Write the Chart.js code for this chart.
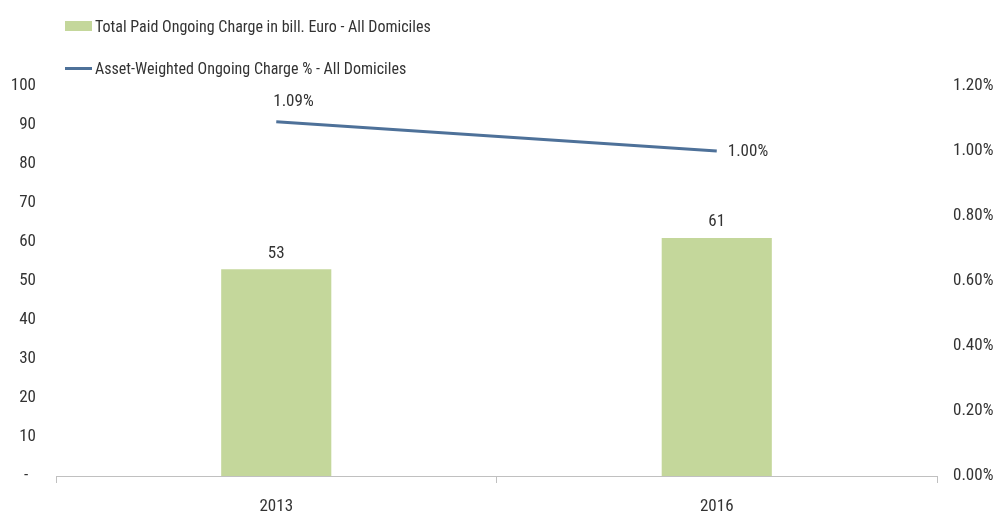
<!DOCTYPE html>
<html>
<head>
<meta charset="utf-8">
<script src="https://cdn.jsdelivr.net/npm/chart.js@4/dist/chart.umd.min.js"></script>
<style>
  html, body { margin: 0; padding: 0; background: #fff; }
  #wrap { position: relative; width: 994px; height: 513px; }
  canvas { position: absolute; left: 0; top: 0; }
  .legend-item {
    position: absolute; left: 65px; height: 20px;
    display: flex; align-items: center;
    font-family: "Roboto Condensed", "DejaVu Sans Condensed", sans-serif;
    font-size: 16px; color: #333;
  }
  .legend-item .swatch { width: 27px; margin-right: 3px; }
</style>
</head>
<body>
<div id="wrap">
  <canvas id="chart" width="994" height="513"></canvas>
  <div class="legend-item" style="top:16px"><span class="swatch" style="height:10px;background:#c4d79b"></span><span id="leg-bar"></span></div>
  <div class="legend-item" style="top:58px"><span class="swatch" style="height:3px;background:#4e7199"></span><span id="leg-line"></span></div>
</div>
<script>
// --- DATA ---
const years = ['2013', '2016'];
const paidCharge = [53, 61];          // bill. Euro
const weightedCharge = [1.09, 1.00];  // percent
const leftTicks = [0, 10, 20, 30, 40, 50, 60, 70, 80, 90, 100];
const rightTicks = [0, 0.2, 0.4, 0.6, 0.8, 1.0, 1.2];
const barLabel = 'Total Paid Ongoing Charge in bill. Euro - All Domiciles';
const lineLabel = 'Asset-Weighted Ongoing Charge % - All Domiciles';

const FONT = '"Roboto Condensed", "DejaVu Sans Condensed", sans-serif';
const FONT_SIZE = 17;
const TEXT = '#333333';
const BAR_COLOR = '#c4d79b';
const LINE_COLOR = '#4e7199';

document.getElementById('leg-bar').innerText = barLabel;
document.getElementById('leg-line').innerText = lineLabel;

// value labels over the bars and next to the line points
const valueLabels = {
  id: 'valueLabels',
  afterDatasetsDraw(chart) {
    const ctx = chart.ctx;
    ctx.save();
    ctx.font = FONT_SIZE + 'px ' + FONT;
    ctx.fillStyle = TEXT;

    chart.getDatasetMeta(0).data.forEach((bar, i) => {
      ctx.textAlign = 'center';
      ctx.textBaseline = 'middle';
      ctx.fillText(paidCharge[i], bar.x, bar.y - 16);
    });

    const pts = chart.getDatasetMeta(1).data;
    pts.forEach((pt, i) => {
      const txt = weightedCharge[i].toFixed(2) + '%';
      ctx.textAlign = 'left';
      ctx.textBaseline = 'middle';
      if (i === 0) ctx.fillText(txt, pt.x - 3, pt.y - 20);
      else ctx.fillText(txt, pt.x + 11, pt.y + 1);
    });
    ctx.restore();
  }
};

const ctx = document.getElementById('chart').getContext('2d');
new Chart(ctx, {
  type: 'bar',
  data: {
    labels: years,
    datasets: [
      {
        type: 'bar',
        label: barLabel,
        data: paidCharge,
        backgroundColor: BAR_COLOR,
        barPercentage: 0.25,
        categoryPercentage: 1,
        yAxisID: 'y',
        order: 2
      },
      {
        type: 'line',
        label: lineLabel,
        data: weightedCharge,
        borderColor: LINE_COLOR,
        borderWidth: 3,
        pointRadius: 0,
        tension: 0,
        yAxisID: 'y1',
        order: 1
      }
    ]
  },
  options: {
    responsive: false,
    animation: false,
    layout: { padding: { top: 86, left: 0, right: 0, bottom: 0 } },
    plugins: {
      legend: { display: false },
      tooltip: { enabled: false }
    },
    scales: {
      x: {
        offset: true,
        grid: {
          offset: true,
          drawOnChartArea: false,
          drawTicks: true,
          tickLength: 7,
          color: '#c0c0c0'
        },
        border: { display: true, color: '#c0c0c0' },
        ticks: { color: TEXT, font: { family: FONT, size: FONT_SIZE }, padding: 14 },
        afterFit(scale) { scale.height = 37; }
      },
      y: {
        position: 'left',
        min: 0, max: 100,
        afterBuildTicks(scale) { scale.ticks = leftTicks.map(v => ({ value: v })); },
        grid: { display: false, drawTicks: false },
        border: { display: false },
        ticks: {
          color: TEXT,
          font: { family: FONT, size: FONT_SIZE },
          padding: 20,
          callback: v => v === 0 ? '-  ' : v
        },
        afterFit(scale) { scale.width = 56; }
      },
      y1: {
        position: 'right',
        min: 0, max: 1.2,
        afterBuildTicks(scale) { scale.ticks = rightTicks.map(v => ({ value: v })); },
        grid: { display: false, drawTicks: false },
        border: { display: false },
        ticks: {
          color: TEXT,
          font: { family: FONT, size: FONT_SIZE },
          padding: 16,
          callback: v => v.toFixed(2) + '%'
        },
        afterFit(scale) { scale.width = 57; }
      }
    }
  },
  plugins: [valueLabels]
});
</script>
</body>
</html>
